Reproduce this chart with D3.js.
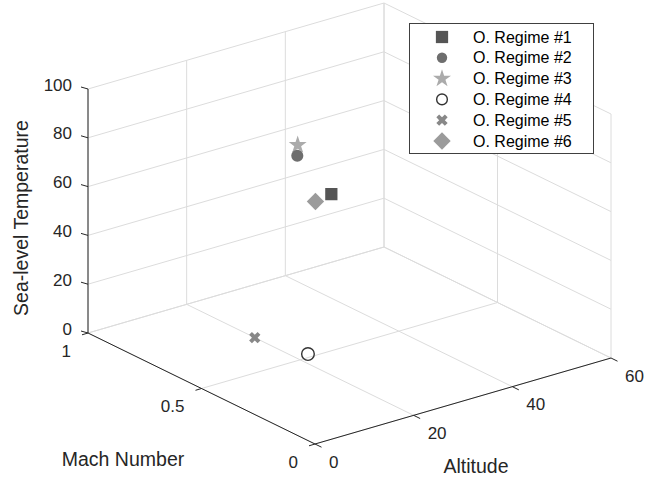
<!DOCTYPE html>
<html>
<head>
<meta charset="utf-8">
<script src="https://cdn.jsdelivr.net/npm/d3@7"></script>
<style>
  html, body { margin: 0; padding: 0; background: #fff; }
  svg { display: block; font-family: "Liberation Sans", Arial, Helvetica, sans-serif; }
</style>
</head>
<body>
<svg id="chart" width="645" height="479"></svg>
<script>
// Operating regimes: Mach number, altitude, sea-level temperature
const regimes = ["O. Regime #1", "O. Regime #2", "O. Regime #3", "O. Regime #4", "O. Regime #5", "O. Regime #6"];
const mach     = [0.58, 0.73, 0.75, 0.52, 0.70, 0.65];
const altitude = [30,   30,   31,   22.5, 20,   30];
const seaTemp  = [58.4, 67.3, 70.2, 0,    0,    52.2];

const machTicks = [0, 0.5, 1];
const altTicks  = [0, 20, 40, 60];
const tempTicks = [0, 20, 40, 60, 80, 100];
const machTickLabels = ["0", "0.5", "1"];
const altTickLabels  = ["0", "20", "40", "60"];
const tempTickLabels = ["0", "20", "40", "60", "80", "100"];

const svg = d3.select("#chart");

// Axis scales map each data range onto a unit box edge
const xS = d3.scaleLinear().domain([1, 0]).range([0, 1]);   // Mach (decreasing toward viewer)
const yS = d3.scaleLinear().domain([0, 60]).range([0, 1]);  // Altitude
const zS = d3.scaleLinear().domain([0, 100]).range([0, 1]); // Temperature

// Orthographic view of the unit box: screen origin and screen span of each box edge
const O  = [88, 333];
const eX = [227, 111];
const eY = [296, -86];
const eZ = [0, -244];

function proj(m, a, t) {
  const u = xS(m), v = yS(a), w = zS(t);
  return [O[0] + u * eX[0] + v * eY[0] + w * eZ[0],
          O[1] + u * eX[1] + v * eY[1] + w * eZ[1]];
}
// depth along the viewing direction (larger = nearer)
function depth(m, a) { return xS(m) * eX[1] + yS(a) * eY[1]; }

const line = d3.line();
const gridColor = "#dcdcdc";
const axisColor = "#262626";

const grid = svg.append("g").attr("fill", "none").attr("stroke", gridColor).attr("stroke-width", 1);
function seg(g, p, q) { g.append("path").attr("d", line([p, q])); }

// floor grid (T = 0)
machTicks.forEach(m => seg(grid, proj(m, 0, 0), proj(m, 60, 0)));
altTicks.forEach(a => seg(grid, proj(1, a, 0), proj(0, a, 0)));
// back wall at Mach = 1
altTicks.forEach(a => seg(grid, proj(1, a, 0), proj(1, a, 100)));
tempTicks.forEach(t => seg(grid, proj(1, 0, t), proj(1, 60, t)));
// back wall at Altitude = 60
machTicks.forEach(m => seg(grid, proj(m, 60, 0), proj(m, 60, 100)));
tempTicks.forEach(t => seg(grid, proj(1, 60, t), proj(0, 60, t)));

// axis lines
const ax = svg.append("g").attr("fill", "none").attr("stroke", axisColor).attr("stroke-width", 1);
seg(ax, proj(1, 0, 0), proj(1, 0, 100));
seg(ax, proj(1, 0, 0), proj(0, 0, 0));
seg(ax, proj(0, 0, 0), proj(0, 60, 0));

const txt = svg.append("g").attr("fill", "#262626").attr("font-size", 17);

// temperature ticks and labels
tempTicks.forEach((t, i) => {
  const p = proj(1, 0, t);
  seg(ax, p, [p[0] - 7, p[1] - 2]);
  txt.append("text").attr("x", p[0] - 16).attr("y", p[1] - 4)
    .attr("text-anchor", "end").attr("dominant-baseline", "central").text(tempTickLabels[i]);
});
// Mach ticks and labels
machTicks.forEach((m, i) => {
  const p = proj(m, 0, 0);
  seg(ax, p, [p[0] - 6, p[1] + 1.8]);
  txt.append("text").attr("x", p[0] - 17).attr("y", p[1] + 18)
    .attr("text-anchor", "end").attr("dominant-baseline", "central").text(machTickLabels[i]);
});
// altitude ticks and labels
altTicks.forEach((a, i) => {
  const p = proj(0, a, 0);
  seg(ax, p, [p[0] + 6.5, p[1] + 3.2]);
  txt.append("text").attr("x", p[0] + 14).attr("y", p[1] + 18)
    .attr("text-anchor", "start").attr("dominant-baseline", "central").text(altTickLabels[i]);
});

// axis titles
const lab = svg.append("g").attr("fill", "#262626").attr("font-size", 19.5).attr("text-anchor", "middle");
lab.append("text").attr("transform", "translate(21,218) rotate(-90)")
  .attr("dominant-baseline", "central").text("Sea-level Temperature");
lab.append("text").attr("x", 123).attr("y", 459).attr("dominant-baseline", "central").text("Mach Number");
lab.append("text").attr("x", 476).attr("y", 466).attr("dominant-baseline", "central").text("Altitude");

// marker styles per regime
const styles = [
  { type: d3.symbolSquare, size: 150, rot: 0,  fill: "#555555", stroke: "none" },
  { type: d3.symbolCircle, size: 115, rot: 0,  fill: "#6e6e6e", stroke: "none" },
  { type: d3.symbolStar,   size: 100, rot: 0,  fill: "#ababab", stroke: "none" },
  { type: d3.symbolCircle, size: 125, rot: 0,  fill: "none",    stroke: "#333333" },
  { type: d3.symbolCross,  size: 80,  rot: 45, fill: "#888888", stroke: "none" },
  { type: d3.symbolSquare, size: 150, rot: 45, fill: "#9b9b9b", stroke: "none" }
];

const pts = regimes.map((r, i) => ({ i, m: mach[i], a: altitude[i], t: seaTemp[i] }))
  .sort((p, q) => depth(p.m, p.a) - depth(q.m, q.a));

function drawMarker(g, s, x, y) {
  g.append("path")
    .attr("d", d3.symbol().type(s.type).size(s.size)())
    .attr("transform", `translate(${x},${y}) rotate(${s.rot})`)
    .attr("fill", s.fill)
    .attr("stroke", s.stroke)
    .attr("stroke-width", s.stroke === "none" ? 0 : 1.4);
}

const marks = svg.append("g");
pts.forEach(p => {
  const [x, y] = proj(p.m, p.a, p.t);
  drawMarker(marks, styles[p.i], x, y);
});

// legend
const lg = svg.append("g");
lg.append("rect").attr("x", 409.5).attr("y", 23.5).attr("width", 184).attr("height", 130)
  .attr("fill", "#fff").attr("stroke", "#404040").attr("stroke-width", 1);
regimes.forEach((r, i) => {
  const y = 37 + i * 20.8;
  const s = Object.assign({}, styles[i]);
  if (i === 1) s.size = 85;
  if (i === 3) s.size = 90;
  drawMarker(lg, s, 442, y);
  lg.append("text").attr("x", 473).attr("y", y).attr("dominant-baseline", "central")
    .attr("font-size", 16).attr("fill", "#000").text(r);
});
</script>
</body>
</html>
